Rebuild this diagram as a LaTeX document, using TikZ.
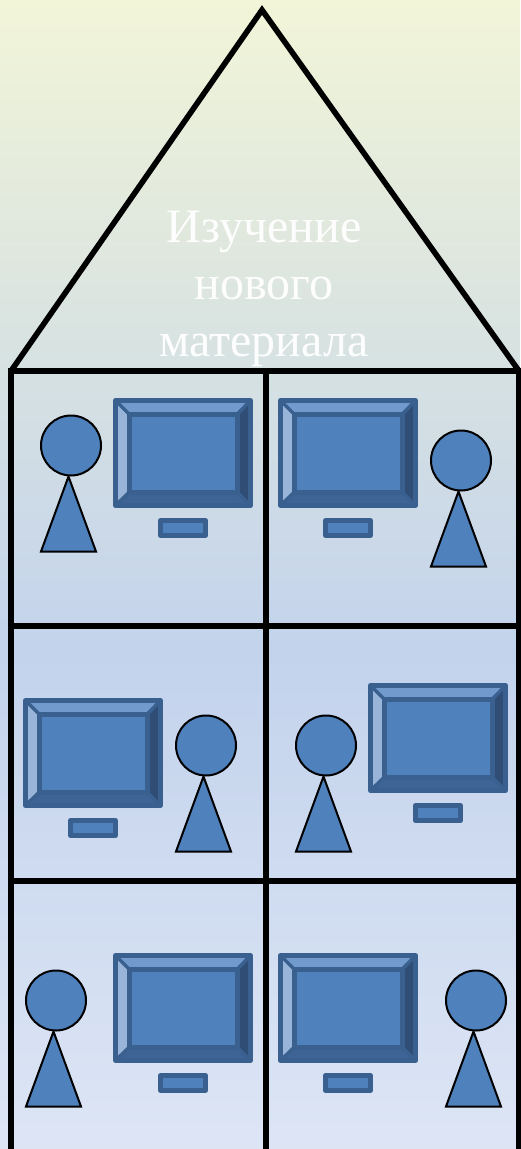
\documentclass[tikz,border=0pt]{standalone}
\usepackage{fontspec}
\setmainfont{Liberation Serif}
\definecolor{bgA}{RGB}{242,245,216}
\definecolor{bgB}{RGB}{214,225,226}
\definecolor{bgC}{RGB}{195,211,236}
\definecolor{bgD}{RGB}{221,229,245}
\definecolor{mline}{RGB}{58,96,144}
\definecolor{mfill}{RGB}{79,129,189}
\definecolor{mtop}{RGB}{114,154,204}
\definecolor{mleft}{RGB}{152,180,216}
\definecolor{mright}{RGB}{47,77,117}
\definecolor{mbot}{RGB}{62,100,150}
\tikzset{
  wall/.style={draw=black,line width=5.6pt,line join=miter},
  bodyshape/.style={draw=black,line width=2pt,fill=mfill,line join=miter},
  bevel/.style={draw=mline,line width=5pt,line join=round},
  monitor/.pic={
    \fill[mtop] (2.5,2.5)--(137.5,2.5)--(124.5,16)--(16,16)--cycle;
    \fill[mleft] (2.5,2.5)--(16,16)--(16,94.5)--(2.5,107.5)--cycle;
    \fill[mright] (137.5,2.5)--(137.5,107.5)--(124.5,94.5)--(124.5,16)--cycle;
    \fill[mbot] (2.5,107.5)--(16,94.5)--(124.5,94.5)--(137.5,107.5)--cycle;
    \fill[mfill] (16,16) rectangle (124.5,94.5);
    \draw[bevel] (2.5,2.5) rectangle (137.5,107.5);
    \draw[bevel] (16,16) rectangle (124.5,94.5);
    \draw[mline,line width=3.5pt] (2.5,2.5)--(16,16) (137.5,2.5)--(124.5,16) (2.5,107.5)--(16,94.5) (137.5,107.5)--(124.5,94.5);
    \draw[bevel,fill=mfill] (47.5,122.5) rectangle (92.5,137.5);
  },
  person/.pic={
    \draw[bodyshape] (-2.5,31)--(-30,106)--(25,106)--cycle;
    \draw[bodyshape] (0,0) circle (30);
  }
}
\begin{document}
\begin{tikzpicture}[x=1pt,y=-1pt]
\useasboundingbox (0,0) rectangle (520,1149);
\shade[top color=bgA,bottom color=bgB] (0,0) rectangle (520,371);
\shade[top color=bgB,bottom color=bgC] (0,370) rectangle (520,651);
\shade[top color=bgC,bottom color=bgD] (0,650) rectangle (520,1149);

\pic at (113,398) {monitor};
\pic at (278,398) {monitor};
\pic at (23,698) {monitor};
\pic at (368,683) {monitor};
\pic at (113,953) {monitor};
\pic at (278,953) {monitor};

\pic at (71,445.5) {person};
\pic at (461,460.5) {person};
\pic at (206,745.5) {person};
\pic at (326,745.5) {person};
\pic at (56,1000.5) {person};
\pic at (476,1000.5) {person};

\draw[wall] (11,371)--(262,10)--(519,371);
\draw[wall] (11,1149)--(11,371)--(519,371)--(519,1149);
\draw[wall] (265.7,371)--(265.7,1149);
\draw[wall] (11,626)--(519,626);
\draw[wall] (11,881)--(519,881);

\node[text=white,opacity=.95,align=center,font=\fontsize{48}{57}\selectfont,inner sep=0pt] (title) at (264,288.5) {Изучение\\нового\\материала};
\end{tikzpicture}
\end{document}
